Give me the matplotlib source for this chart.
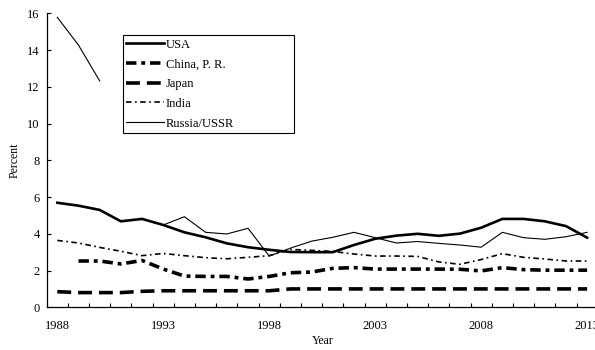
import numpy as np
import matplotlib
matplotlib.use("Agg")
import matplotlib.pyplot as plt

plt.rcParams['font.family'] = ['Liberation Serif', 'DejaVu Serif']
plt.rcParams['lines.scale_dashes'] = False

# data (percent)
years = list(range(1988, 2014))
usa = [5.69, 5.53, 5.30, 4.68, 4.81, 4.48, 4.08, 3.81, 3.48, 3.27, 3.13, 3.01, 3.00,
       3.00, 3.39, 3.73, 3.90, 4.00, 3.89, 4.01, 4.33, 4.81, 4.81, 4.68, 4.42, 3.79]
china = [np.nan, 2.52, 2.52, 2.36, 2.55, 2.08, 1.70, 1.68, 1.68, 1.54, 1.68, 1.88, 1.92,
         2.12, 2.16, 2.08, 2.08, 2.08, 2.08, 2.07, 1.98, 2.16, 2.05, 2.02, 2.02, 2.02]
japan = [0.85, 0.80, 0.80, 0.80, 0.87, 0.90, 0.90, 0.90, 0.90, 0.90, 0.90, 1.00, 1.00,
         1.00, 1.00, 1.00, 1.00, 1.00, 1.00, 1.00, 1.00, 1.00, 1.00, 1.00, 1.00, 1.00]
india = [3.64, 3.50, 3.26, 3.05, 2.81, 2.93, 2.81, 2.70, 2.64, 2.72, 2.81, 3.15, 3.10,
         3.04, 2.90, 2.79, 2.79, 2.77, 2.47, 2.34, 2.60, 2.92, 2.72, 2.63, 2.52, 2.52]
russia = [15.78, 14.27, 12.32, np.nan, np.nan, 4.48, 4.93, 4.08, 3.99, 4.30, 2.79, 3.22, 3.60,
          3.81, 4.08, 3.79, 3.50, 3.58, 3.48, 3.39, 3.27, 4.08, 3.79, 3.70, 3.84, 4.08]
labels = ['USA', 'China, P. R.', 'Japan', 'India', 'Russia/USSR']
year_ticks = [1988, 1993, 1998, 2003, 2008, 2013]

fig = plt.figure(figsize=(5.95, 3.5), dpi=100)
# plot area runs a little past the right edge, as in the reference
ax = fig.add_axes([46.7 / 595, 1 - 307.3 / 350, 551 / 595, 294 / 350])

ax.plot(years, usa, color='black', lw=1.9, solid_joinstyle='round', label=labels[0])
ax.plot(years, china, color='black', lw=2.6, dash_capstyle='butt',
        dashes=(7.5, 3.5, 2.8, 3.5), label=labels[1])
ax.plot(years, japan, color='black', lw=2.6, dash_capstyle='butt',
        dashes=(10, 5), label=labels[2])
ax.plot(years, india, color='black', lw=1.2, dash_capstyle='butt',
        dashes=(4, 2.5, 1.2, 2.5), label=labels[3])
ax.plot(years, russia, color='black', lw=0.8, label=labels[4])

ax.set_xlim(1987.5, 2013.5)
ax.set_ylim(0, 16)
ax.set_xticks(year_ticks)
ax.set_xticks(np.arange(1987.5, 2014, 1), minor=True)
ax.set_yticks(range(0, 17, 2))
ax.tick_params(axis='x', which='major', length=0, pad=9, labelsize=9)
ax.tick_params(axis='x', which='minor', direction='in', length=3, width=0.8)
ax.tick_params(axis='y', direction='in', length=3, width=0.8, pad=5, labelsize=9)

for s in ['top', 'right']:
    ax.spines[s].set_visible(False)
for s in ['left', 'bottom']:
    ax.spines[s].set_linewidth(0.9)

ax.set_ylabel('Percent', fontsize=8.5)
ax.yaxis.set_label_coords(-0.048, 0.5)
ax.set_xlabel('Year', fontsize=8.5)
ax.xaxis.set_label_coords(0.5, -0.095)

leg = ax.legend(loc='upper left', bbox_to_anchor=(0.138, 0.597, 0.311, 0.33),
                mode='expand', borderaxespad=0, fontsize=9, handlelength=3.0,
                handletextpad=0.15, labelspacing=0.62, borderpad=0.3,
                fancybox=False, framealpha=1)
leg.get_frame().set_edgecolor('black')
leg.get_frame().set_linewidth(0.8)

fig.savefig('out.png', dpi=100)
